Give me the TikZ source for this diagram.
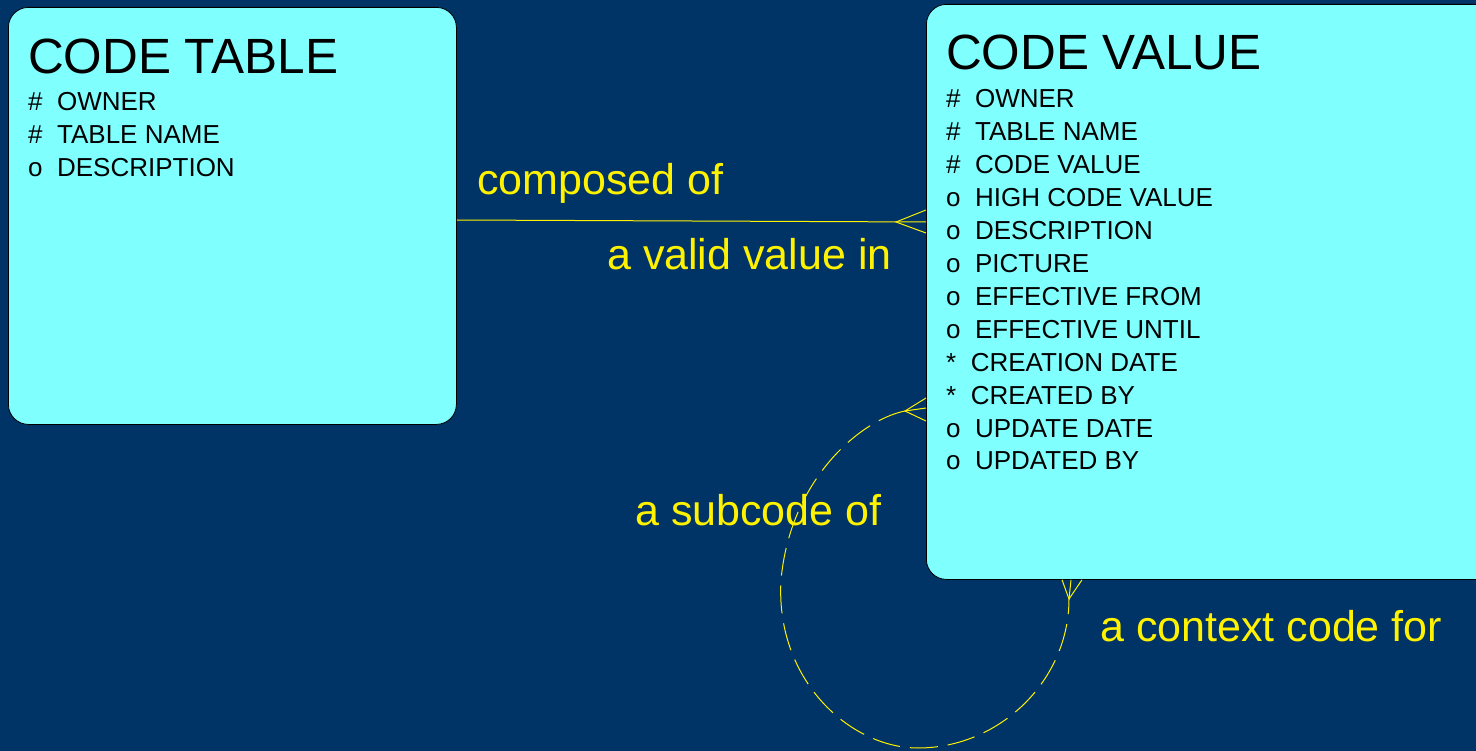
\documentclass[tikz,border=0pt]{standalone}
\usepackage{fontspec}
\setmainfont{Liberation Sans}
\definecolor{navy}{RGB}{0,51,102}
\definecolor{aqua}{RGB}{128,255,255}
\begin{document}
\begin{tikzpicture}[x=1pt,y=-1pt,
    entity/.style={draw=black,fill=aqua,rounded corners=20pt,inner sep=0pt,line width=0.8pt,anchor=north west},
    title/.style={anchor=base west,inner sep=0pt,font=\fontsize{49.5}{49.5}\selectfont},
    attr/.style={anchor=base west,inner sep=0pt,font=\fontsize{26}{26}\selectfont},
    rel/.style={draw=yellow,line width=1pt},
    lbl/.style={anchor=base west,inner sep=0pt,text=yellow,font=\fontsize{43}{43}\selectfont}]
    \useasboundingbox (0,0) rectangle (1476,751);
    \fill[navy] (0,0) rectangle (1476,751);
    % entities
    \node[entity,minimum width=448pt,minimum height=417pt] (table) at (8,7) {};
    \node[entity,minimum width=600pt,minimum height=575pt] (value) at (926,4) {};
    \node[title] (tabletitle) at (28,74) {CODE TABLE};
    \node[title] (valuetitle) at (946,70) {CODE VALUE};
    \foreach \t [count=\i from 0] in {\#\ \ OWNER, \#\ \ TABLE NAME, o\ \ DESCRIPTION}
        \node[attr] (ta\i) at (28,111+33*\i) {\t};
    \foreach \t [count=\i from 0] in {\#\ \ OWNER, \#\ \ TABLE NAME, \#\ \ CODE VALUE,
        o\ \ HIGH CODE VALUE, o\ \ DESCRIPTION, o\ \ PICTURE, o\ \ EFFECTIVE FROM,
        o\ \ EFFECTIVE UNTIL, *\ \ CREATION DATE, *\ \ CREATED BY, o\ \ UPDATE DATE,
        o\ \ UPDATED BY}
        \node[attr] (va\i) at (946,108+32.9*\i) {\t};
    % relationships
    \coordinate (foot1) at (896,222);
    \coordinate (foot2) at (905,411);
    \coordinate (foot3) at (1069,599);
    \draw[rel] (table.east |- 0,220) -- (value.west |- 0,222);
    \draw[rel] (value.west |- 0,210) -- (foot1) -- (value.west |- 0,233);
    \draw[rel] (value.west |- 0,398) -- (foot2) -- (value.west |- 0,421);
    \draw[rel] (foot2) -- (value.west |- 0,408);
    \draw[rel] (value.south -| 1062,0) -- (foot3) -- (value.south -| 1082,0);
    \draw[rel] (foot3) -- (value.south -| 1071,0);
    \draw[rel,dash pattern=on 28pt off 10pt] (foot2)
        .. controls (860,420) and (790,480) .. (781,580)
        .. controls (775,680) and (850,748) .. (918,748)
        .. controls (1000,748) and (1069,680) .. (foot3);
    % labels
    \node[lbl] (composed) at (477,195) {composed of};
    \node[lbl] (validin) at (607,270) {a valid value in};
    \node[lbl] (subcode) at (635,525) {a subcode of};
    \node[lbl] (context) at (1100,641) {a context code for};
\end{tikzpicture}
\end{document}
